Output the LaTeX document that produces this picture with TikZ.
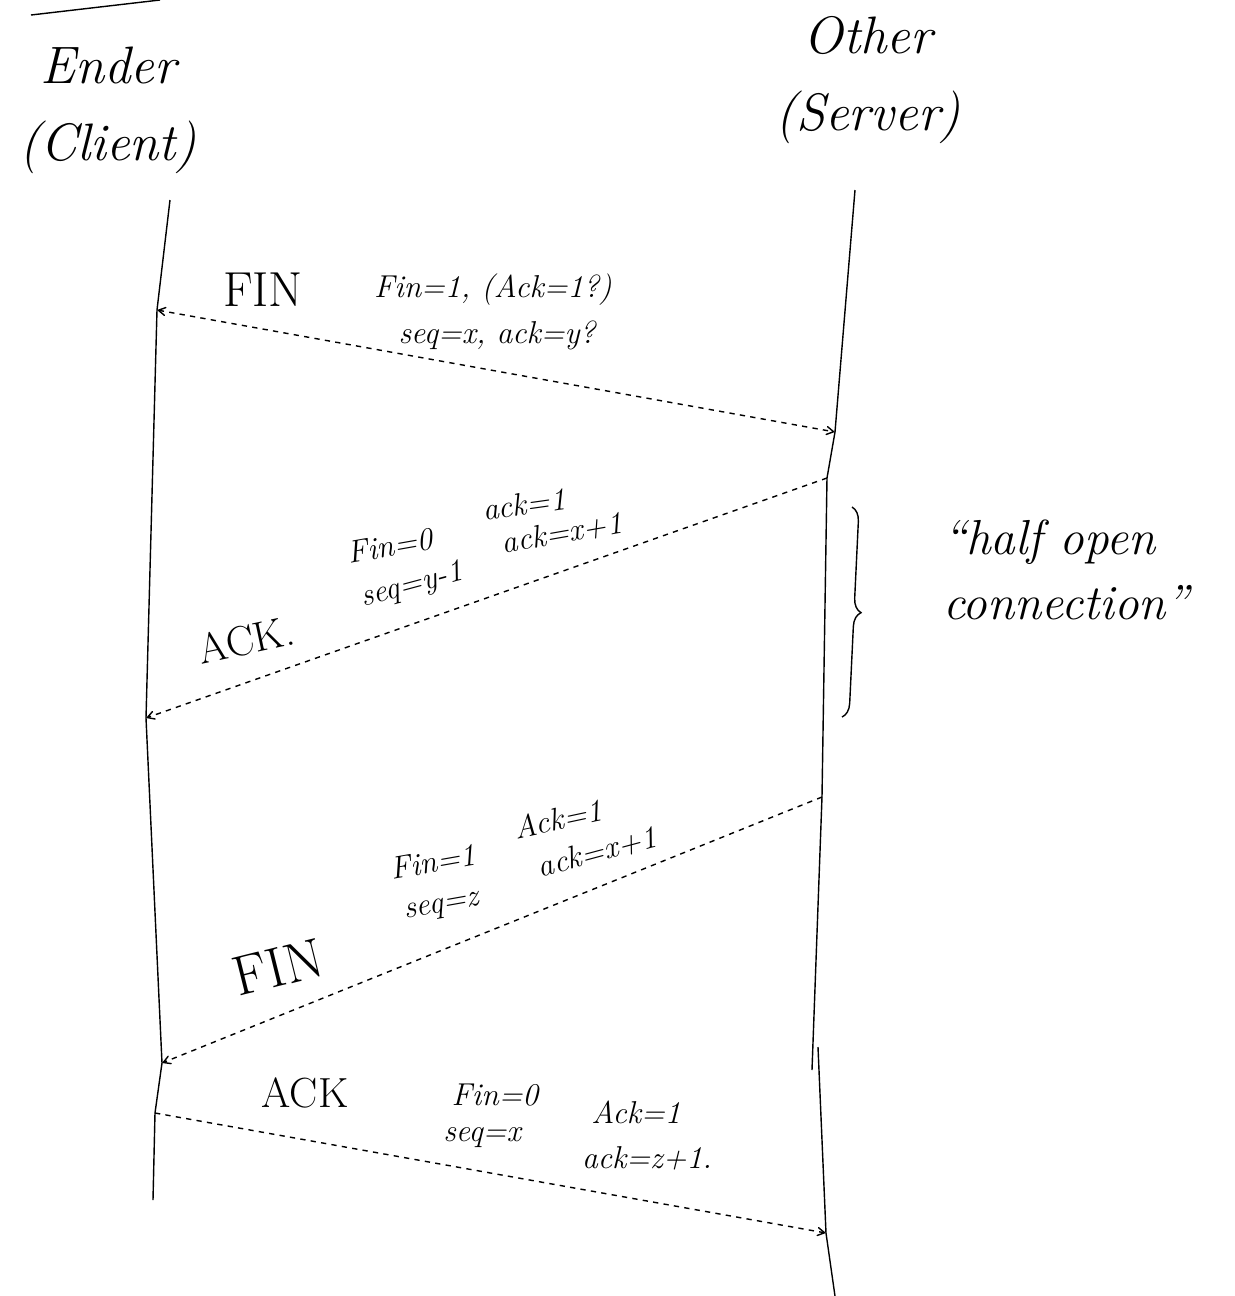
\documentclass[tikz,border=0pt]{standalone}
\usepackage{fontspec}
\usepackage{tikz}
\usetikzlibrary{arrows, positioning, decorations.pathreplacing}
\tikzstyle{party} = [align=center, font=\fontsize{30}{44}\selectfont\itshape]
\tikzstyle{kind} = [font=\fontsize{24}{28}\selectfont, inner sep=1pt]
\tikzstyle{flag} = [font=\fontsize{18}{22}\selectfont\itshape, inner sep=1pt]
\tikzstyle{note} = [align=left, font=\fontsize{28}{37}\selectfont\itshape]
\tikzstyle{lifeline} = [thick]
\tikzstyle{msg} = [thick, dashed, ->, >=angle 60]

\begin{document}
\begin{tikzpicture}[x=0.02cm, y=-0.02cm]
    \useasboundingbox (0,0) rectangle (1235,1296);
    % endpoints
    \coordinate (stroka) at (31,15);
    \coordinate (strokb) at (160,0);
    \coordinate (ctop) at (170,200);
    \coordinate (c1) at (157,310);
    \coordinate (c2) at (146,718);
    \coordinate (c3) at (162,1063);
    \coordinate (c4) at (155,1113);
    \coordinate (cend) at (153,1200);
    \coordinate (stop) at (855,190);
    \coordinate (s1) at (835,432);
    \coordinate (s2) at (827,478);
    \coordinate (s3) at (822,797);
    \coordinate (sbreak) at (812,1070);
    \coordinate (srestart) at (818,1047);
    \coordinate (s4) at (826,1233);
    \coordinate (send) at (835,1296);
    \coordinate (bracetop) at (852,507);
    \coordinate (bracebot) at (842,717);
    \node (client) [party] at (108,110) {Ender\\(Client)};
    \node (server) [party] at (868,80) {Other\\(Server)};
    \draw [thick] (stroka) -- (strokb);
    \draw [lifeline] (ctop) -- (c1) -- (c2) -- (c3) -- (c4) -- (cend);
    \draw [lifeline] (stop) -- (s1) -- (s2) -- (s3) -- (sbreak);
    \draw [lifeline] (srestart) -- (s4) -- (send);
    % FIN from client
    \draw [msg, <->] (c1) -- (s1);
    \node (fin1) [kind, font=\fontsize{28}{32}\selectfont] at (263,290) {FIN};
    \node (fin1a) [flag] at (493,290) {Fin=1, (Ack=1?)};
    \node (fin1b) [flag] at (497,335) {seq=x, ack=y?};
    % ACK from server
    \draw [msg] (s2) -- (c2);
    \node (ack2) [kind, rotate=12] at (246,640) {ACK.};
    \node (ack2a) [flag, rotate=10] at (390,546) {Fin=0};
    \node (ack2b) [flag, rotate=15] at (412,586) {seq=y-1};
    \node (ack2c) [flag, rotate=8] at (524,504) {ack=1};
    \node (ack2d) [flag, rotate=10] at (562,533) {ack=x+1};
    \draw [thick, decorate, decoration={brace, amplitude=8pt}] (bracetop) -- (bracebot);
    \node (halfopen) [note] at (1066,570) {``half open\\connection''};
    % FIN from server
    \draw [msg] (s3) -- (c3);
    \node (fin3) [kind, rotate=14, font=\fontsize{32}{36}\selectfont] at (278,967) {FIN};
    \node (fin3a) [flag, rotate=12] at (558,819) {Ack=1};
    \node (fin3b) [flag, rotate=15] at (597,852) {ack=x+1};
    \node (fin3c) [flag, rotate=10] at (433,862) {Fin=1};
    \node (fin3d) [flag, rotate=10] at (442,908) {seq=z};
    % ACK from client
    \draw [msg] (c4) -- (s4);
    \node (ack4) [kind] at (305,1093) {ACK};
    \node (ack4a) [flag] at (495,1095) {Fin=0};
    \node (ack4b) [flag] at (482,1138) {seq=x};
    \node (ack4c) [flag] at (636,1112) {Ack=1};
    \node (ack4d) [flag] at (647,1158) {ack=z+1.};
\end{tikzpicture}
\end{document}
